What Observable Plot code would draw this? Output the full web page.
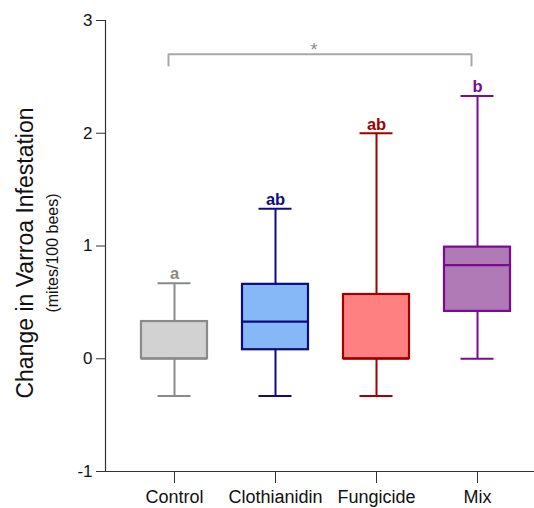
<!DOCTYPE html>
<html>
<head>
<meta charset="utf-8">
<script src="https://cdn.jsdelivr.net/npm/d3@7"></script>
<script src="https://cdn.jsdelivr.net/npm/@observablehq/plot@0.6"></script>
<style>
  html, body { margin: 0; padding: 0; background: #fff; }
  #chart { width: 534px; height: 508px; }
  svg { font-family: "Liberation Sans", Arial, sans-serif; }
</style>
</head>
<body>
<div id="chart"></div>
<script>
const groups = ["Control", "Clothianidin", "Fungicide", "Mix"];
const whiskerLow = [-0.33, -0.33, -0.33, 0.0];
const q1 = [0.0, 0.08, 0.0, 0.42];
const median = [0.0, 0.33, 0.0, 0.83];
const q3 = [0.33, 0.66, 0.57, 0.99];
const whiskerHigh = [0.67, 1.33, 2.0, 2.33];
const letters = ["a", "ab", "ab", "b"];
const fills = ["#d2d2d2", "#86b8f8", "#ff8080", "#b07ab6"];
const strokes = ["#8a8a8a", "#0c0c80", "#a00000", "#7a0a90"];
const yTicks = [-1, 0, 1, 2, 3];
const bracketFrom = "Control";
const bracketTo = "Mix";
const bracketY = 2.70;
const bracketLegY = 2.60;
const bracketLabel = "*";

const data = groups.map((g, i) => ({
  g, lo: whiskerLow[i], q1: q1[i], med: median[i], q3: q3[i], hi: whiskerHigh[i],
  letter: letters[i], fill: fills[i], stroke: strokes[i]
}));

const plot = Plot.plot({
  width: 534,
  height: 508,
  marginLeft: 105,
  marginRight: 0,
  marginTop: 20,
  marginBottom: 37,
  style: { fontFamily: "Liberation Sans, Arial, sans-serif", fontSize: "16px", color: "#222" },
  x: { type: "band", domain: groups, range: [140, 510], paddingInner: 0.35, paddingOuter: 0 },
  y: { domain: [-1, 3] },
  marks: [
    Plot.frame({ anchor: "left", stroke: "#333", strokeWidth: 1.2 }),
    Plot.frame({ anchor: "bottom", stroke: "#333", strokeWidth: 1.2 }),
    Plot.axisY({ ticks: yTicks, tickFormat: d => d, tickSize: 9, tickPadding: 4, label: null, fontSize: 17, stroke: "#333", fill: "#111" }),
    Plot.axisX({ tickSize: 12, tickPadding: 7, label: null, fontSize: 18, stroke: "#333", fill: "#111" }),
    // whiskers
    Plot.ruleX(data, { x: "g", y1: "lo", y2: "q1", stroke: "stroke", strokeWidth: 2 }),
    Plot.ruleX(data, { x: "g", y1: "q3", y2: "hi", stroke: "stroke", strokeWidth: 2 }),
    Plot.tickY(data, { x: "g", y: "lo", stroke: "stroke", strokeWidth: 2, insetLeft: 16.5, insetRight: 16.5 }),
    Plot.tickY(data, { x: "g", y: "hi", stroke: "stroke", strokeWidth: 2, insetLeft: 16.5, insetRight: 16.5 }),
    // boxes
    Plot.rectY(data, { x: "g", y1: "q1", y2: "q3", fill: "fill", stroke: "stroke", strokeWidth: 2.2 }),
    Plot.tickY(data, { x: "g", y: "med", stroke: "stroke", strokeWidth: 2.2 }),
    // letters
    Plot.text(data, { x: "g", y: "hi", text: "letter", fill: "stroke", dy: -9, fontSize: 16.5, fontWeight: "bold" }),
    // significance bracket
    Plot.line([
      { g: bracketFrom, y: bracketLegY }, { g: bracketFrom, y: bracketY },
      { g: bracketTo, y: bracketY }, { g: bracketTo, y: bracketLegY }
    ], { x: "g", y: "y", stroke: "#a8a8a8", strokeWidth: 2, dx: -6 }),
    Plot.text([bracketLabel], {
      y: () => bracketY, text: d => d, dx: -6, dy: -4, fontSize: 18, fill: "#8c8c8c"
    }),
    // y label
    Plot.text(["Change in Varroa Infestation"], {
      frameAnchor: "left", textAnchor: "middle", text: d => d, rotate: -90, dx: -80, dy: 7, fontSize: 23, fill: "#111"
    }),
    Plot.text(["(mites/100 bees)"], {
      frameAnchor: "left", textAnchor: "middle", text: d => d, rotate: -90, dx: -53, dy: 7, fontSize: 16, fill: "#111"
    })
  ]
});
document.getElementById("chart").appendChild(plot);
</script>
</body>
</html>
